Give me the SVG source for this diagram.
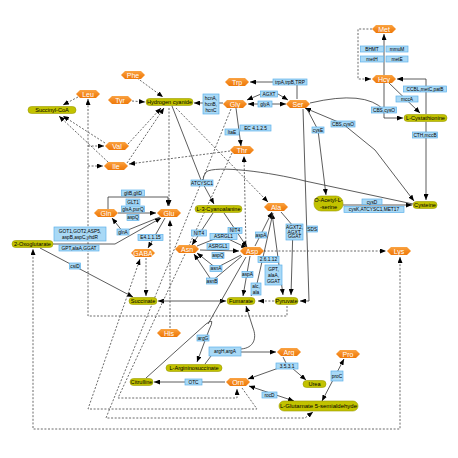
<svg xmlns="http://www.w3.org/2000/svg" xmlns:xlink="http://www.w3.org/1999/xlink" width="458" height="458" viewBox="0 0 458 458">
<defs>
<marker id="ar" markerUnits="userSpaceOnUse" markerWidth="6" markerHeight="5" refX="6" refY="2.5" orient="auto-start-reverse"><path d="M0,0 L6,2.5 L0,5 z" fill="#000"/></marker>
<linearGradient id="og" x1="0" y1="0" x2="0" y2="1"><stop offset="0" stop-color="#F9A445"/><stop offset="0.5" stop-color="#F58A1F"/><stop offset="1" stop-color="#EE7A0C"/></linearGradient>
<polygon id="aa" points="-12,0 -8,-4 8,-4 12,0 8,4 -8,4"/>
<style>
.s{fill:none;stroke:#333;stroke-width:0.8}
.d{fill:none;stroke:#444;stroke-width:0.8;stroke-dasharray:2 1.6}
.aa use{fill:url(#og)}
.aa text{fill:#fff;font-family:"Liberation Sans",Arial,sans-serif;font-size:7px;text-anchor:middle}
.m rect{fill:#C2C200;stroke:#9A9A00;stroke-width:0.6}
.m text{fill:#000;font-family:"Liberation Sans",Arial,sans-serif;font-size:5.6px;text-anchor:middle}
.g rect{fill:#A9D9F6;stroke:#5FB2EA;stroke-width:0.7}
.g text{fill:#000;font-family:"Liberation Sans",Arial,sans-serif;font-size:4.8px;text-anchor:middle}
</style>
</defs>
<rect width="458" height="458" fill="#fff"/>
<g id="connectors">
<path class="s" d="M384,75 L384,34" marker-end="url(#ar)"/>
<path class="d" d="M372,29 L358,29 L358,79 L371,79" marker-end="url(#ar)"/>
<path class="s" d="M384,83 L384,118 L403,118" marker-end="url(#ar)"/>
<path class="s" d="M310,103 Q365,90 384,110"/>
<path class="s" d="M388,82 L420,113" marker-end="url(#ar)"/>
<path class="s" d="M426,114 L426,79 L397,79" marker-end="url(#ar)"/>
<path class="s" d="M426,122 L426,200" marker-end="url(#ar)"/>
<path class="s" d="M305,108 L343,124 L375,150 L414,201" marker-start="url(#ar)" marker-end="url(#ar)"/>
<path class="s" d="M307,109 L318,130 L326,195" marker-end="url(#ar)"/>
<path class="s" d="M303,109 L309,301 L300,301" marker-end="url(#ar)"/>
<path class="s" d="M343,205 L412,205" marker-end="url(#ar)"/>
<path class="s" d="M413,204 L305,181 C270,172 215,165 206,172 Q203,176 203,181"/>
<path class="s" d="M172,106 L201,180 L214,204" marker-end="url(#ar)"/>
<path class="s" d="M223,103 L194,103" marker-end="url(#ar)"/>
<path class="s" d="M248,104 L286,104" marker-start="url(#ar)" marker-end="url(#ar)"/>
<path class="s" d="M247,100 L261,94 L278,94 L288,100" marker-start="url(#ar)" marker-end="url(#ar)"/>
<path class="s" d="M297,99 L297,82 L250,82" marker-end="url(#ar)"/>
<path class="s" d="M236,108 L241,146" marker-end="url(#ar)"/>
<path class="d" d="M137,78 L163,97" marker-end="url(#ar)"/>
<path class="d" d="M132,101 L145,102" marker-end="url(#ar)"/>
<path class="d" d="M128,144 L161,108" marker-end="url(#ar)"/>
<path class="d" d="M127,163 L164,108" marker-end="url(#ar)"/>
<path class="d" d="M78,97 L63,105" marker-end="url(#ar)"/>
<path class="d" d="M105,143 L63,116" marker-end="url(#ar)"/>
<path class="d" d="M108,162 L59,116" marker-end="url(#ar)"/>
<path class="d" d="M287,306 L287,316 L88,316 L88,99" marker-end="url(#ar)"/>
<path class="d" d="M88,146 L104,146" marker-end="url(#ar)"/>
<path class="d" d="M88,166 L103,166" marker-end="url(#ar)"/>
<path class="d" d="M230,151 L129,164" marker-end="url(#ar)"/>
<path class="d" d="M169,108 L169,206" marker-end="url(#ar)"/>
<path class="d" d="M176,108 L268,202" marker-end="url(#ar)"/>
<path class="s" d="M108,209 L108,197 L168,197 L168,206" marker-end="url(#ar)"/>
<path class="s" d="M118,213 L156,213" marker-end="url(#ar)"/>
<path class="s" d="M160,217 L123,232 L112,218" marker-end="url(#ar)"/>
<path class="s" d="M53,244 L115,244 L161,218" marker-end="url(#ar)"/>
<path class="s" d="M165,218 L148,248" marker-end="url(#ar)"/>
<path class="s" d="M40,248 L133,297" marker-end="url(#ar)"/>
<path class="s" d="M226,301 L158,301" marker-start="url(#ar)" marker-end="url(#ar)"/>
<path class="s" d="M213,213 L192,245" marker-end="url(#ar)"/>
<path class="s" d="M224,213 L247,247" marker-end="url(#ar)"/>
<path class="s" d="M197,246 L222,236 L247,248" marker-end="url(#ar)"/>
<path class="s" d="M200,250 L239,251" marker-end="url(#ar)"/>
<path class="s" d="M241,255 L216,268 L197,253" marker-end="url(#ar)"/>
<path class="s" d="M242,256 L212,281 L194,254" marker-end="url(#ar)"/>
<path class="s" d="M255,246 L272,212" marker-end="url(#ar)"/>
<path class="s" d="M250,256 L243,296" marker-end="url(#ar)"/>
<path class="s" d="M246,257 L208,324"/>
<path class="s" d="M146,378 L206,324 Q216,316 209,330 L197,362" marker-end="url(#ar)"/>
<path class="s" d="M272,213 L283,295" marker-start="url(#ar)" marker-end="url(#ar)"/>
<path class="s" d="M281,212 L293,226 L291,295" marker-end="url(#ar)"/>
<path class="s" d="M273,213 L256,288 L251,296"/>
<path class="d" d="M274,301 L258,301" marker-end="url(#ar)"/>
<path class="s" d="M205,364 L214,352 L276,352" marker-end="url(#ar)"/>
<path class="s" d="M241,349 C254,348 257,338 253,328 L246,306" marker-end="url(#ar)"/>
<path class="s" d="M283,357 L287,365 L248,379" marker-end="url(#ar)"/>
<path class="s" d="M292,368 L306,380" marker-end="url(#ar)"/>
<path class="s" d="M225,382 L154,382" marker-end="url(#ar)"/>
<path class="s" d="M249,386 L294,401" marker-start="url(#ar)" marker-end="url(#ar)"/>
<path class="s" d="M322,401 L344,359" marker-start="url(#ar)" marker-end="url(#ar)"/>
<path class="d" d="M400,257 L400,429 L33,429 L33,249" marker-start="url(#ar)" marker-end="url(#ar)"/>
<path class="d" d="M264,251 L386,251" marker-end="url(#ar)"/>
<path class="d" d="M246,246 L244,156" marker-end="url(#ar)"/>
<path class="d" d="M146,258 L146,296" marker-end="url(#ar)"/>
<path class="d" d="M242,388 L257,409 L88,409 L140,259" marker-end="url(#ar)"/>
<path class="d" d="M231,109 L106,418 L305,418 L313,412" marker-end="url(#ar)"/>
<path class="d" d="M232,153 L118,398 L237,398 L237,389" marker-end="url(#ar)"/>
<path class="d" d="M170,328 L170,220" marker-end="url(#ar)"/>
</g>
<g id="n-met" class="aa"><use href="#aa" x="384" y="29"/><text x="384" y="31.5">Met</text></g>
<g id="n-phe" class="aa"><use href="#aa" x="133" y="75"/><text x="133" y="77.5">Phe</text></g>
<g id="n-leu" class="aa"><use href="#aa" x="88" y="94"/><text x="88" y="96.5">Leu</text></g>
<g id="n-tyr" class="aa"><use href="#aa" x="120" y="100"/><text x="120" y="102.5">Tyr</text></g>
<g id="n-trp" class="aa"><use href="#aa" x="237" y="82"/><text x="237" y="84.5">Trp</text></g>
<g id="n-gly" class="aa"><use href="#aa" x="235" y="104"/><text x="235" y="106.5">Gly</text></g>
<g id="n-ser" class="aa"><use href="#aa" x="298" y="104"/><text x="298" y="106.5">Ser</text></g>
<g id="n-hcy" class="aa"><use href="#aa" x="384" y="79"/><text x="384" y="81.5">Hcy</text></g>
<g id="n-thr" class="aa"><use href="#aa" x="242" y="150"/><text x="242" y="152.5">Thr</text></g>
<g id="n-val" class="aa"><use href="#aa" x="117" y="146"/><text x="117" y="148.5">Val</text></g>
<g id="n-ile" class="aa"><use href="#aa" x="116" y="166"/><text x="116" y="168.5">Ile</text></g>
<g id="n-gln" class="aa"><use href="#aa" x="106" y="213"/><text x="106" y="215.5">Gln</text></g>
<g id="n-glu" class="aa"><use href="#aa" x="169" y="213"/><text x="169" y="215.5">Glu</text></g>
<g id="n-gaba" class="aa"><use href="#aa" x="143" y="253"/><text x="143" y="255.5">GABA</text></g>
<g id="n-asn" class="aa"><use href="#aa" x="187" y="249"/><text x="187" y="251.5">Asn</text></g>
<g id="n-asp" class="aa"><use href="#aa" x="252" y="251"/><text x="252" y="253.5">Asp</text></g>
<g id="n-ala" class="aa"><use href="#aa" x="276" y="207"/><text x="276" y="209.5">Ala</text></g>
<g id="n-lys" class="aa"><use href="#aa" x="399" y="251"/><text x="399" y="253.5">Lys</text></g>
<g id="n-his" class="aa"><use href="#aa" x="169" y="333"/><text x="169" y="335.5">His</text></g>
<g id="n-arg" class="aa"><use href="#aa" x="289" y="352"/><text x="289" y="354.5">Arg</text></g>
<g id="n-orn" class="aa"><use href="#aa" x="238" y="382"/><text x="238" y="384.5">Orn</text></g>
<g id="n-pro" class="aa"><use href="#aa" x="348" y="354"/><text x="348" y="356.5">Pro</text></g>
<g id="n-succoa" class="m"><rect x="28" y="106.5" width="48" height="7" rx="3.5"/><text x="52" y="112">Succinyl-CoA</text></g>
<g id="n-hcn" class="m"><rect x="146" y="98.5" width="47" height="7" rx="3.5"/><text x="169.5" y="104">Hydrogen cyanide</text></g>
<g id="n-cysta" class="m"><rect x="404" y="114.5" width="43" height="7" rx="3.5"/><text x="425.5" y="120">L-Cystathionine</text></g>
<g id="n-cyano" class="m"><rect x="195" y="205.5" width="47" height="7" rx="3.5"/><text x="218.5" y="211">L-3-Cyanoalanine</text></g>
<g id="n-oas" class="m"><rect x="314" y="196" width="29" height="15" rx="7"/><text x="328.5" y="202">O-Acetyl-L-</text><text x="328.5" y="208.5">-serine</text></g>
<g id="n-cys" class="m"><rect x="413" y="201.5" width="24" height="7" rx="3.5"/><text x="425" y="207">Cysteine</text></g>
<g id="n-2og" class="m"><rect x="12" y="240.5" width="41" height="7" rx="3.5"/><text x="32.5" y="246">2-Oxoglutarate</text></g>
<g id="n-succ" class="m"><rect x="129" y="297.5" width="28" height="7" rx="3.5"/><text x="143" y="303">Succinate</text></g>
<g id="n-fum" class="m"><rect x="227" y="297.5" width="28" height="7" rx="3.5"/><text x="241" y="303">Fumarate</text></g>
<g id="n-pyr" class="m"><rect x="275" y="297.5" width="23" height="7" rx="3.5"/><text x="286.5" y="303">Pyruvate</text></g>
<g id="n-argsuc" class="m"><rect x="166" y="364.5" width="56" height="7" rx="3.5"/><text x="194" y="370">L-Argininosuccinate</text></g>
<g id="n-cit" class="m"><rect x="130" y="378.5" width="23" height="7" rx="3.5"/><text x="141.5" y="384">Citrulline</text></g>
<g id="n-urea" class="m"><rect x="303" y="380.5" width="23" height="7" rx="3.5"/><text x="314.5" y="386">Urea</text></g>
<g id="n-g5sa" class="m"><rect x="279" y="401" width="79" height="10" rx="5"/><text x="318.5" y="408" style="font-size:6px">L-Glutamate 5-semialdehyde</text></g>
<g id="g-bhmt" class="g"><rect x="360.5" y="46" width="23" height="6"/><text x="372" y="50.8">BHMT</text></g>
<g id="g-mmum" class="g"><rect x="386" y="46" width="22" height="6"/><text x="397" y="50.8">mmuM</text></g>
<g id="g-meth" class="g"><rect x="360.5" y="56" width="23" height="6"/><text x="372" y="60.8">metH</text></g>
<g id="g-mete" class="g"><rect x="386" y="56" width="22" height="6"/><text x="397" y="60.8">metE</text></g>
<g id="g-ccbl" class="g"><rect x="403.5" y="86" width="43" height="6"/><text x="425" y="90.8">CCBL,metC,patB</text></g>
<g id="g-mcca" class="g"><rect x="396" y="96" width="22" height="6"/><text x="407" y="100.8">mccA</text></g>
<g id="g-cbs1" class="g"><rect x="371.5" y="107" width="25" height="6"/><text x="384" y="111.8">CBS,cysO</text></g>
<g id="g-cbs2" class="g"><rect x="331" y="121" width="24" height="6"/><text x="343" y="125.8">CBS,cysO</text></g>
<g id="g-cyse" class="g"><rect x="312" y="127" width="12" height="6"/><text x="318" y="131.8">cysE</text></g>
<g id="g-cth" class="g"><rect x="412.5" y="132" width="25" height="6"/><text x="425" y="136.8">CTH,mccB</text></g>
<g id="g-trp" class="g"><rect x="273" y="79" width="34" height="6"/><text x="290" y="83.8">trpA,trpB,TRP</text></g>
<g id="g-hcn" class="g"><rect x="203" y="94" width="16" height="20"/><text x="211" y="99.8">hcnA,</text><text x="211" y="105.8">hcnB,</text><text x="211" y="111.8">hcnC</text></g>
<g id="g-agxt" class="g"><rect x="260.5" y="91" width="17" height="6"/><text x="269" y="95.8">AGXT</text></g>
<g id="g-glya" class="g"><rect x="258" y="101" width="14" height="6"/><text x="265" y="105.8">glyA</text></g>
<g id="g-ltae" class="g"><rect x="225" y="129" width="14" height="6"/><text x="232" y="133.8">ltaE</text></g>
<g id="g-ec41" class="g"><rect x="240" y="125" width="31" height="6"/><text x="255.5" y="129.8">EC 4.1.2.5</text></g>
<g id="g-atcysc1" class="g"><rect x="191" y="180" width="22" height="6"/><text x="202" y="184.8">ATCYSC1</text></g>
<g id="g-nit4a" class="g"><rect x="191.5" y="230" width="15" height="6"/><text x="199" y="234.8">NIT4</text></g>
<g id="g-nit4b" class="g"><rect x="228" y="227.5" width="14" height="6"/><text x="235" y="232.3">NIT4</text></g>
<g id="g-asrgl1a" class="g"><rect x="210" y="233.5" width="27" height="6"/><text x="223.5" y="238.3">ASRGL1</text></g>
<g id="g-asrgl1b" class="g"><rect x="207" y="243.5" width="22" height="6"/><text x="218" y="248.3">ASRGL1</text></g>
<g id="g-aspq1" class="g"><rect x="212" y="252.5" width="12" height="6"/><text x="218" y="257.3">aspQ</text></g>
<g id="g-asna" class="g"><rect x="210" y="265.5" width="12" height="6"/><text x="216" y="270.3">asnA</text></g>
<g id="g-asnb" class="g"><rect x="206.5" y="278" width="11" height="6"/><text x="212" y="282.8">asnB</text></g>
<g id="g-aspa1" class="g"><rect x="255.5" y="232" width="11" height="6"/><text x="261" y="236.8">aspA</text></g>
<g id="g-aspa2" class="g"><rect x="242" y="271.5" width="11" height="6"/><text x="247.5" y="276.3">aspA</text></g>
<g id="g-26112" class="g"><rect x="258" y="256.5" width="21" height="6"/><text x="268.5" y="261.3">2.6.1.12</text></g>
<g id="g-gpt1" class="g"><rect x="265" y="265" width="17" height="20"/><text x="273.5" y="270.8">GPT,</text><text x="273.5" y="276.8">alaA,</text><text x="273.5" y="282.8">GGAT</text></g>
<g id="g-alc" class="g"><rect x="251" y="283" width="10" height="12"/><text x="256" y="288.3">alc,</text><text x="256" y="293.5">ala</text></g>
<g id="g-agxt2" class="g"><rect x="286" y="224" width="17" height="16"/><text x="294.5" y="228.8">AGXT2,</text><text x="294.5" y="233.6">AGXT,</text><text x="294.5" y="238.4">GGAT</text></g>
<g id="g-sds" class="g"><rect x="307" y="226" width="10.5" height="6"/><text x="312.2" y="230.8">SDS</text></g>
<g id="g-cysd" class="g"><rect x="362" y="199" width="20" height="5.5"/><text x="372" y="203.6">cysD</text></g>
<g id="g-cysk" class="g"><rect x="344" y="206.5" width="60" height="6"/><text x="374" y="211.3">cysK,ATCYSC1,MET17</text></g>
<g id="g-gltb" class="g"><rect x="121.5" y="190" width="23" height="6"/><text x="133" y="194.8">gltB,gltD</text></g>
<g id="g-glt1" class="g"><rect x="126" y="199" width="14" height="6"/><text x="133" y="203.8">GLT1</text></g>
<g id="g-glsa" class="g"><rect x="121.5" y="206" width="23" height="6"/><text x="133" y="210.8">glsA,purQ</text></g>
<g id="g-aspq2" class="g"><rect x="127" y="214.5" width="12" height="6"/><text x="133" y="219.3">aspQ</text></g>
<g id="g-glna" class="g"><rect x="117" y="229" width="12" height="6"/><text x="123" y="233.8">glnA</text></g>
<g id="g-got" class="g"><rect x="54" y="227" width="52" height="14"/><text x="80" y="232.8">GOT1,GOT2,ASP5,</text><text x="80" y="238.8">aspB,aspC,yhdR</text></g>
<g id="g-gpt2" class="g"><rect x="59" y="245" width="40" height="6"/><text x="79" y="249.8">GPT,alaA,GGAT</text></g>
<g id="g-e4115" class="g"><rect x="138" y="234.5" width="25" height="6"/><text x="150.5" y="239.3">E4.1.1.15</text></g>
<g id="g-csid" class="g"><rect x="69.5" y="263" width="11" height="6"/><text x="75" y="267.8">csiD</text></g>
<g id="g-argg" class="g"><rect x="197" y="335" width="12" height="6"/><text x="203" y="339.8">argG</text></g>
<g id="g-argh" class="g"><rect x="209" y="347" width="32" height="9"/><text x="225" y="353.3">argH,argA</text></g>
<g id="g-otc" class="g"><rect x="185" y="379" width="17" height="6"/><text x="193.5" y="383.8">OTC</text></g>
<g id="g-3531" class="g"><rect x="276" y="363" width="22" height="6"/><text x="287" y="367.8">3.5.3.1</text></g>
<g id="g-rocd" class="g"><rect x="262" y="392" width="15" height="6"/><text x="269.5" y="396.8">rocD</text></g>
<g id="g-proc" class="g"><rect x="331" y="371" width="12" height="10"/><text x="337" y="377.8">proC</text></g>
</svg>
